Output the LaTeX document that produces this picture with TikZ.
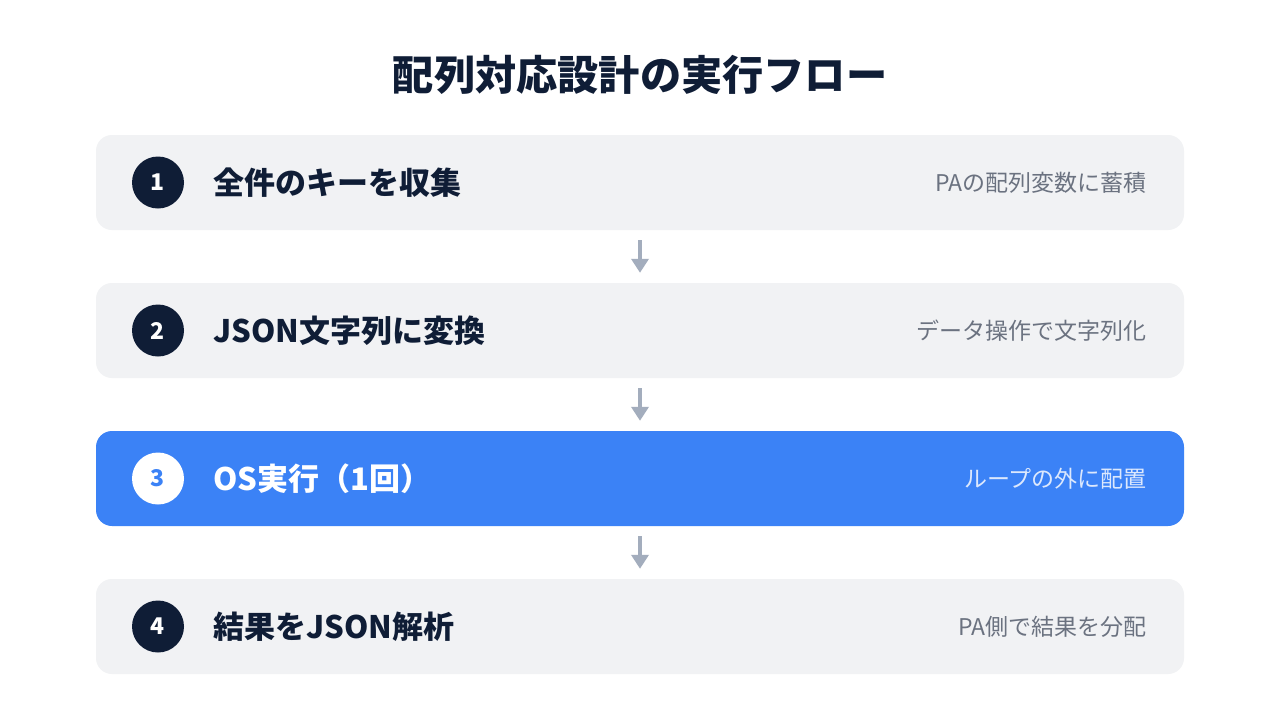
\documentclass[tikz,border=0pt]{standalone}
\usepackage{fontspec}
\setmainfont{Noto Sans CJK JP}
\usetikzlibrary{arrows.meta}
\definecolor{navy}{HTML}{0F1D36}
\definecolor{boxgray}{HTML}{F1F2F4}
\definecolor{subgray}{HTML}{6B7280}
\definecolor{accent}{HTML}{3B82F6}
\definecolor{arrowgray}{HTML}{A3ADBD}
\definecolor{sublight}{HTML}{DCE8FD}
\tikzset{
  x=1pt, y=-1pt,
  rowbox/.style={fill=boxgray, rounded corners=16pt, minimum width=1088pt, minimum height=95pt, inner sep=0pt},
  rowhl/.style={rowbox, fill=accent},
  numdot/.style={circle, fill=navy, minimum size=52pt, inner sep=0pt, text=white, font=\bfseries\fontsize{23}{23}\selectfont},
  numdothl/.style={numdot, fill=white, text=accent},
  steptitle/.style={anchor=west, text=navy, font=\bfseries\fontsize{31}{31}\selectfont, inner sep=0pt},
  steptitlehl/.style={steptitle, text=white},
  stepnote/.style={anchor=east, text=subgray, font=\fontsize{23}{23}\selectfont, inner sep=0pt},
  stepnotehl/.style={stepnote, text=sublight},
  flowarrow/.style={draw=arrowgray, line width=4pt, -{Triangle[width=17pt,length=14pt]}, shorten >=0pt}
}
\begin{document}
\begin{tikzpicture}
\useasboundingbox (0,0) rectangle (1280,720);
\fill[white] (0,0) rectangle (1280,720);
\node[text=navy, font=\bfseries\fontsize{41.2}{41.2}\selectfont, inner sep=0pt] (title) at (640,75) {配列対応設計の実行フロー};

\node[rowbox] (r1) at (640,182.5) {};
\node[numdot] (n1) at (158,182.5) {1};
\node[steptitle] (t1) at (213,182.5) {全件のキーを収集};
\node[stepnote] (s1) at (1147,182.5) {PAの配列変数に蓄積};

\node[rowbox] (r2) at (640,330.5) {};
\node[numdot] (n2) at (158,330.5) {2};
\node[steptitle] (t2) at (213,330.5) {JSON文字列に変換};
\node[stepnote] (s2) at (1147,330.5) {データ操作で文字列化};

\node[rowhl] (r3) at (640,478.5) {};
\node[numdothl] (n3) at (158,478.5) {3};
\node[steptitlehl] (t3) at (213,478.5) {OS実行（1回）};
\node[stepnotehl] (s3) at (1147,478.5) {ループの外に配置};

\node[rowbox] (r4) at (640,626.5) {};
\node[numdot] (n4) at (158,626.5) {4};
\node[steptitle] (t4) at (213,626.5) {結果をJSON解析};
\node[stepnote] (s4) at (1147,626.5) {PA側で結果を分配};

\draw[flowarrow] ([yshift=-10pt]r1.south) -- ([yshift=10pt]r2.north);
\draw[flowarrow] ([yshift=-10pt]r2.south) -- ([yshift=10pt]r3.north);
\draw[flowarrow] ([yshift=-10pt]r3.south) -- ([yshift=10pt]r4.north);
\end{tikzpicture}
\end{document}
